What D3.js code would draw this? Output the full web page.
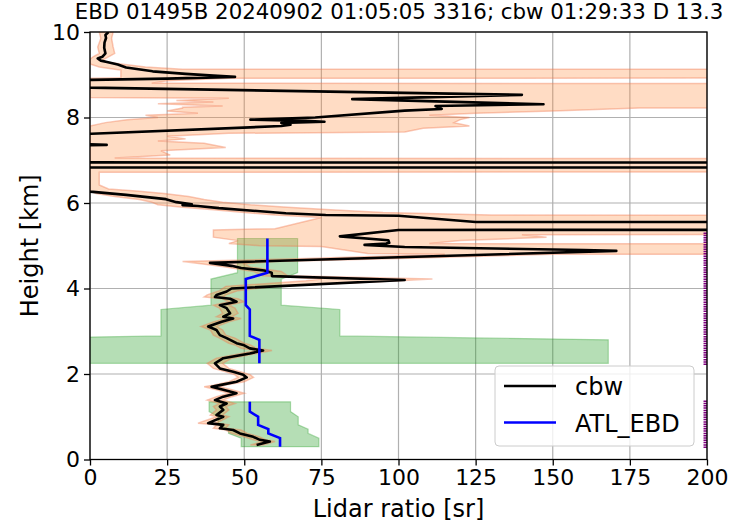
<!DOCTYPE html>
<html>
<head>
<meta charset="utf-8">
<script src="https://cdn.jsdelivr.net/npm/d3@7"></script>
<style>
  body { margin: 0; background: #fff; }
  svg { display: block; font-family: "DejaVu Sans", sans-serif; }
</style>
</head>
<body>
<div id="chart"></div>
<script>
// cbw lidar ratio profile (height km, LR sr), top to bottom
const cbwHeight = [10.00, 9.93, 9.86, 9.75, 9.63, 9.50, 9.42, 9.38, 9.33, 9.30, 9.24, 9.17, 9.08, 9.02, 8.98, 8.95, 8.91, 8.88, 8.87, 8.72, 8.70,
  8.53, 8.43, 8.31, 8.27, 8.20, 8.16, 8.00, 7.95, 7.92, 7.90, 7.87, 7.83, 7.80, 7.62, 7.60, 7.38, 7.36, 7.34, 6.95, 6.93, 6.83, 6.83,
  6.28, 6.26, 6.19, 6.09, 6.02, 5.97, 5.95, 5.93, 5.88, 5.76, 5.72, 5.70, 5.555, 5.55, 5.38, 5.37, 5.22, 5.13, 5.07, 5.05, 5.02, 4.97, 4.90, 4.88,
  4.60, 4.53, 4.48, 4.42, 4.37, 4.29, 4.20, 4.00, 3.93, 3.85, 3.80, 3.76, 3.69, 3.61, 3.54, 3.42, 3.34, 3.30, 3.22, 3.11, 3.03,
  2.91, 2.84, 2.72, 2.68, 2.60, 2.55, 2.48, 2.37, 2.25, 2.13, 2.05, 1.98, 1.92, 1.82, 1.74, 1.70, 1.63, 1.55, 1.47, 1.39, 1.31, 1.24,
  1.16, 1.04, 1.00, 0.85, 0.81, 0.73, 0.69, 0.61, 0.53, 0.46, 0.42, 0.38, 0.34];
const cbwRatio = [6.0, 5.0, 5.2, 4.7, 4.6, 5.0, 4.0, 2.5, 3.5, 5.5, 9, 11.7, 20.3, 31, 40, 47, 25, 0.5, -5, -5, 0,
  140, 85, 147, 112, 114, 102, 73, 52, 70, 76, 62, 65, 62, 0.5, -5, -5, 5.4, -5, -5, 1000, 1000, -5,
  -5, 1, 11.7, 24.6, 28, 33, 30, 35, 41.8, 63.5, 76.4, 100, 125, 1000, 1000, 100, 81, 96.7, 97, 96, 89, 102, 160, 170.6,
  38.9, 45.9, 49, 56.5, 58.9, 59, 102, 45.9, 44.3, 41.0, 40.5, 45.4, 47.5, 42.1, 44.3, 45.4, 43.2, 46.4, 42.7, 38.3, 41.0,
  42.1, 44.3, 47.5, 49.7, 51.8, 56.1, 51.8, 43.2, 40.5, 42.1, 46.4, 49.7, 50.8, 47.5, 42.1, 39.4, 43.2, 47.5, 43.2, 40.5, 44.3, 42.1,
  43.2, 41.0, 43.2, 38.3, 43.2, 42.1, 46.4, 48.6, 52.9, 55.1, 58.3, 56.1, 54.0];

// cbw uncertainty band
const bandHeight = [10.00, 9.85, 9.65, 9.50, 9.42, 9.36, 9.30, 9.25, 9.18, 9.13, 9.11, 8.93, 8.92, 8.86, 8.80, 8.77, 8.47, 8.45, 8.40,
  8.36, 8.32, 8.27, 8.24, 8.22, 8.15, 8.10, 8.05, 8.00, 7.95, 7.88, 7.80, 7.75, 7.66, 7.63, 7.56, 7.50, 7.45, 7.40, 7.30, 7.22, 7.12,
  7.05, 7.00, 6.74, 6.72, 6.42, 6.33, 6.28, 6.22, 6.15, 6.08, 6.02, 5.96, 5.90, 5.84, 5.78, 5.72, 5.66, 5.40, 5.37, 5.28, 5.26, 5.20,
  5.12, 5.05, 5.00, 4.98, 4.82, 4.80, 4.70, 4.63, 4.58, 4.50, 4.40, 4.30, 4.22, 4.18, 4.05, 3.95, 3.85, 3.80, 3.76, 3.69, 3.61, 3.54, 3.42,
  3.34, 3.30, 3.22, 3.11, 3.03, 2.91, 2.84, 2.72, 2.68, 2.60, 2.55, 2.48, 2.37, 2.25, 2.13, 2.05, 1.98, 1.92, 1.82, 1.74, 1.70, 1.63,
  1.55, 1.47, 1.39, 1.31, 1.24, 1.16, 1.04, 1.00, 0.85, 0.81, 0.73, 0.69, 0.61, 0.53, 0.46, 0.42, 0.38, 0.34];
const bandLow = [3.0, 3.5, 2.5, 3.0, 1.0, 0, 0, 0, 3, 8, 10, 10, 0, 0, 0, 0, 0, 45, 28,
  40, 22, 43, 30, 30, 25, 35, 18, 22, 12, 5, 0, 0, 0, 0, 0, 0, 0, 0, 0, 0, 0,
  0, 0, 0, 0, 0, 0, 0, 2, 8, 16, 20, 22, 30, 40, 50, 60, 75, 60, 40, 40, 40, 40,
  48, 45, 55, 75, 90, 115, 70, 30, 36, 44, 53, 56, 75, 70, 44, 42, 38, 37, 43, 45, 40, 42, 43,
  41, 44, 40, 36, 39, 40, 42, 45, 47, 49, 54, 49, 41, 38, 40, 44, 47, 48, 45, 40, 37, 41,
  45, 41, 38, 42, 40, 41, 39, 41, 35, 41, 40, 44, 46, 50, 53, 56, 54, 52];
const bandHigh = [7.5, 7.0, 7.5, 8.0, 6.0, 4.5, 5.0, 10, 18, 30, 1000, 1000, 45, 25, 20, 1000, 1000, 1000, 1000,
  1000, 1000, 1000, 1000, 178, 150, 125, 110, 123, 120, 118, 123, 108, 102, 45, 25, 31, 22, 37, 44, 23, 26,
  8, 1000, 1000, 3, 3, 6, 15, 24, 32, 37, 43, 52, 64, 78, 95, 130, 1000, 1000, 1000, 1000, 140, 148,
  120, 110, 1000, 1000, 1000, 150, 100, 60, 50, 52, 62, 64, 111, 100, 60, 48, 44, 43, 48, 50, 45, 47, 48,
  46, 49, 45, 41, 43, 44, 47, 50, 52, 54, 59, 54, 46, 43, 45, 49, 52, 53, 50, 44, 42, 46,
  50, 46, 43, 47, 44, 45, 43, 45, 41, 45, 44, 49, 51, 55, 57, 60, 58, 56];

// ATL_EBD lidar ratio and its range, two layers
const atlHeight = [[5.17, 4.37, 4.22, 3.61, 3.51, 2.89, 2.80, 2.25], [1.35, 1.12, 1.00, 0.81, 0.71, 0.61, 0.50, 0.30]];
const atlRatio = [[57.5, 57.5, 50.5, 50.5, 51.8, 51.8, 54.9, 54.9], [51.8, 51.8, 54.5, 54.5, 57.8, 57.8, 61.6, 61.6]];
const atlLow = [[47.8, 47.8, 39.2, 39.2, 23.0, 23.0, -58, -58], [38.6, 38.6, 41.5, 41.5, 44.9, 44.9, 49.0, 49.0]];
const atlHigh = [[67.3, 67.3, 62.0, 62.0, 81.0, 81.0, 168, 168], [65.0, 65.0, 67.5, 67.5, 70.7, 70.7, 74.2, 74.2]];

// purple flag segments at the right edge (km)
const flagBottom = [0.27, 2.21];
const flagTop = [1.39, 5.32];

const xTicks = [0, 25, 50, 75, 100, 125, 150, 175, 200];
const yTicks = [0, 2, 4, 6, 8, 10];
const title = "EBD 01495B 20240902 01:05:05 3316; cbw 01:29:33 D 13.3";

const width = 731, height = 529;
const mLeft = 90, mRight = 707, mTop = 32, mBottom = 459.5;

const svg = d3.select("#chart").append("svg")
    .attr("width", width)
    .attr("height", height);

const x = d3.scaleLinear().domain([0, 200]).range([mLeft, mRight]);
const y = d3.scaleLinear().domain([0, 10]).range([mBottom, mTop]);

svg.append("defs").append("clipPath").attr("id", "plot-clip")
  .append("rect")
    .attr("x", mLeft).attr("y", mTop)
    .attr("width", mRight - mLeft).attr("height", mBottom - mTop);

// grid
const grid = svg.append("g");
grid.selectAll(".gx").data(xTicks).enter().append("line")
    .attr("x1", d => x(d)).attr("x2", d => x(d))
    .attr("y1", mTop).attr("y2", mBottom)
    .attr("stroke", "#b0b0b0").attr("stroke-width", 1.2);
grid.selectAll(".gy").data(yTicks).enter().append("line")
    .attr("x1", mLeft).attr("x2", mRight)
    .attr("y1", d => y(d)).attr("y2", d => y(d))
    .attr("stroke", "#b0b0b0").attr("stroke-width", 1.2);

const plot = svg.append("g").attr("clip-path", "url(#plot-clip)");

// ATL_EBD range (green)
const rangeArea = d3.area()
    .y(d => y(d.h))
    .x0(d => x(d.lo))
    .x1(d => x(d.hi));
atlHeight.forEach((hs, k) => {
  const pts = hs.map((h, i) => ({ h: h, lo: atlLow[k][i], hi: atlHigh[k][i] }));
  plot.append("path")
      .attr("d", rangeArea(pts))
      .attr("fill", "#2ca02c").attr("fill-opacity", 0.35)
      .attr("stroke", "#2ca02c").attr("stroke-opacity", 0.35).attr("stroke-width", 1.2);
});

// cbw uncertainty (peach)
const bandPts = bandHeight.map((h, i) => ({ h: h, lo: bandLow[i], hi: bandHigh[i] }));
plot.append("path")
    .attr("d", rangeArea(bandPts))
    .attr("fill", "#ff8a3c").attr("fill-opacity", 0.3)
    .attr("stroke", "#f07850").attr("stroke-opacity", 0.4).attr("stroke-width", 1.5);

// cbw line
const line = d3.line().x(d => x(d[1])).y(d => y(d[0]));
plot.append("path")
    .attr("d", line(cbwHeight.map((h, i) => [h, cbwRatio[i]])))
    .attr("fill", "none").attr("stroke", "black").attr("stroke-width", 2.6)
    .attr("stroke-linejoin", "round");

// ATL_EBD line
atlHeight.forEach((hs, k) => {
  plot.append("path")
      .attr("d", line(hs.map((h, i) => [h, atlRatio[k][i]])))
      .attr("fill", "none").attr("stroke", "#0000ff").attr("stroke-width", 2.6);
});

// purple flags
flagBottom.forEach((b, i) => {
  plot.append("line")
      .attr("x1", x(200)).attr("x2", x(200))
      .attr("y1", y(b)).attr("y2", y(flagTop[i]))
      .attr("stroke", "#800080").attr("stroke-width", 7)
      .attr("stroke-dasharray", "1.5,0.8");
});

// spines
svg.append("rect")
    .attr("x", mLeft).attr("y", mTop)
    .attr("width", mRight - mLeft).attr("height", mBottom - mTop)
    .attr("fill", "none").attr("stroke", "black").attr("stroke-width", 1.3);

// axes
const xAxis = d3.axisBottom(x).tickValues(xTicks).tickSize(6).tickPadding(4).tickFormat(d3.format("d"));
const yAxis = d3.axisLeft(y).tickValues(yTicks).tickSize(6).tickPadding(4).tickFormat(d3.format("d"));

const gx = svg.append("g").attr("transform", `translate(0,${mBottom})`).call(xAxis);
const gy = svg.append("g").attr("transform", `translate(${mLeft},0)`).call(yAxis);
[gx, gy].forEach(g => {
  g.select(".domain").remove();
  g.selectAll("line").attr("stroke", "black").attr("stroke-width", 1.3);
  g.selectAll("text").attr("font-size", 22).attr("fill", "black")
      .attr("font-family", "DejaVu Sans");
});

svg.append("text")
    .attr("x", (mLeft + mRight) / 2).attr("y", 517)
    .attr("text-anchor", "middle").attr("font-size", 24)
    .text("Lidar ratio [sr]");

svg.append("text")
    .attr("transform", `translate(38,${(mTop + mBottom) / 2}) rotate(-90)`)
    .attr("text-anchor", "middle").attr("font-size", 24)
    .text("Height [km]");

svg.append("text")
    .attr("x", 399).attr("y", 19)
    .attr("text-anchor", "middle").attr("font-size", 21.3)
    .text(title);

// legend
const legend = svg.append("g");
legend.append("rect")
    .attr("x", 495).attr("y", 366).attr("width", 199).attr("height", 80).attr("rx", 4)
    .attr("fill", "white").attr("fill-opacity", 0.8)
    .attr("stroke", "#cccccc").attr("stroke-width", 1);
const legendItems = [["cbw", "black"], ["ATL_EBD", "#0000ff"]];
legendItems.forEach((d, i) => {
  const ly = 386 + i * 36.5;
  legend.append("line")
      .attr("x1", 504).attr("x2", 556).attr("y1", ly).attr("y2", ly)
      .attr("stroke", d[1]).attr("stroke-width", 2.6);
  legend.append("text")
      .attr("x", 575).attr("y", ly + 9).attr("font-size", 24)
      .text(d[0]);
});
</script>
</body>
</html>
